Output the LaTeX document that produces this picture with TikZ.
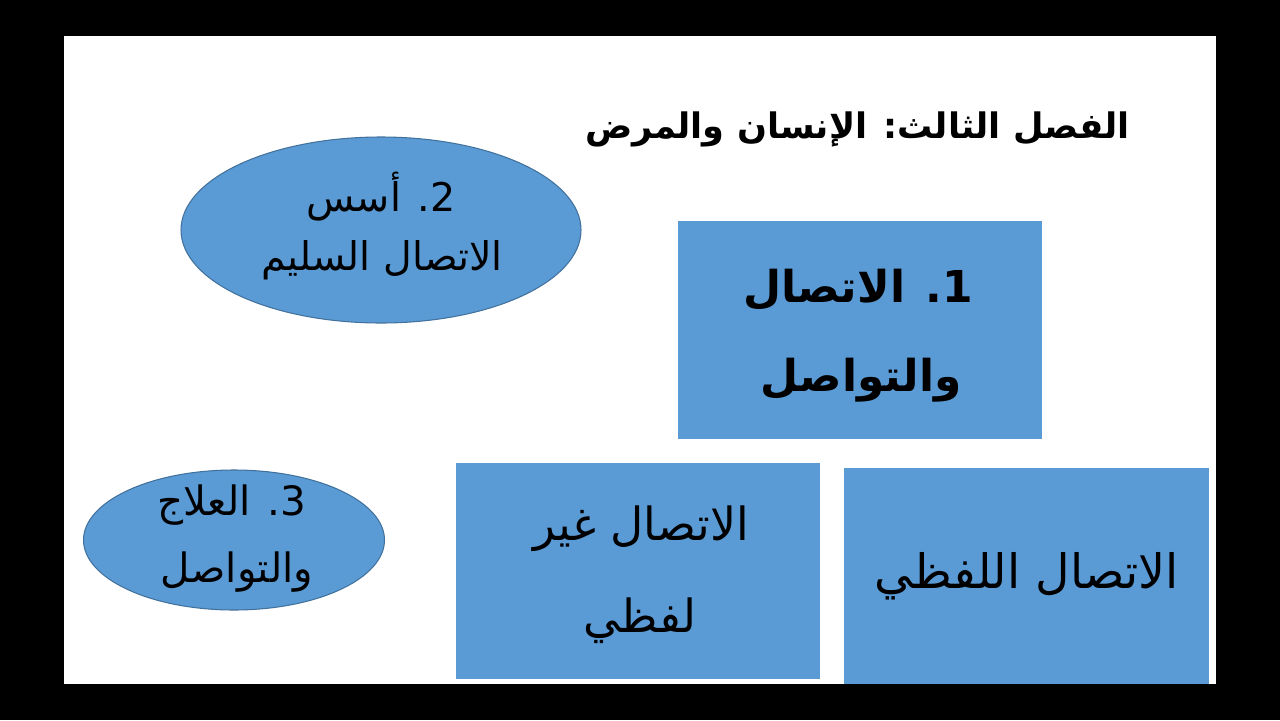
\documentclass[tikz,border=0pt]{standalone}
\usepackage{fontspec}
\usetikzlibrary{shapes.geometric}
\TeXXeTstate=1
\newfontfamily\arabicfont[Script=Arabic]{DejaVu Sans}
\definecolor{boxblue}{HTML}{5B9BD5}
\definecolor{edgeblue}{HTML}{41719C}
\tikzset{
  blueoval/.style={ellipse, fill=boxblue, draw=edgeblue, line width=0.6pt, inner sep=0pt},
  bluebox/.style={rectangle, fill=boxblue, draw=none, inner sep=0pt},
  txt/.style={anchor=base, inner sep=0pt, text=black},
}
\begin{document}
\begin{tikzpicture}[x=0.02cm, y=-0.02cm]
\useasboundingbox (0,0) rectangle (1280,720);
\fill[black] (0,0) rectangle (1280,720);
\fill[white] (64,36) rectangle (1216,684);
% title
\node[anchor=base east, inner sep=0pt, font=\arabicfont\bfseries\fontsize{20}{24}\selectfont] (title) at (1130,138) {\beginR الفصل الثالث: الإنسان والمرض\endR};
% shapes
\node[blueoval, minimum width=400*0.02cm, minimum height=186*0.02cm] (e1) at (381,230) {};
\node[bluebox, minimum width=364*0.02cm, minimum height=218*0.02cm] (r1) at (860,330) {};
\node[blueoval, minimum width=301*0.02cm, minimum height=140*0.02cm] (e2) at (234,540) {};
\node[bluebox, minimum width=364*0.02cm, minimum height=216*0.02cm] (r2) at (638,571) {};
\node[bluebox, minimum width=365*0.02cm, minimum height=216*0.02cm] (r3) at (1026.5,576) {};
% texts
\begin{scope}[every node/.append style={txt}]
\node[font=\arabicfont\fontsize{22.5}{27}\selectfont] (e1a) at (381,211) {\beginR 2. أسس\endR};
\node[font=\arabicfont\fontsize{22.5}{27}\selectfont] (e1b) at (382,270) {\beginR الاتصال السليم\endR};
\node[font=\arabicfont\bfseries\fontsize{25}{30}\selectfont] (r1a) at (858,302) {\beginR 1. الاتصال\endR};
\node[font=\arabicfont\bfseries\fontsize{25}{30}\selectfont] (r1b) at (861,391) {\beginR والتواصل\endR};
\node[font=\arabicfont\fontsize{23}{28}\selectfont] (e2a) at (232,515) {\beginR 3. العلاج\endR};
\node[font=\arabicfont\fontsize{23}{28}\selectfont] (e2b) at (237,582) {\beginR والتواصل\endR};
\node[font=\arabicfont\fontsize{26}{31}\selectfont] (r2a) at (641,540) {\beginR الاتصال غير\endR};
\node[font=\arabicfont\fontsize{26}{31}\selectfont] (r2b) at (640,632) {\beginR لفظي\endR};
\node[font=\arabicfont\fontsize{27}{32}\selectfont] (r3a) at (1027,588) {\beginR الاتصال اللفظي\endR};
\end{scope}
\end{tikzpicture}
\end{document}
